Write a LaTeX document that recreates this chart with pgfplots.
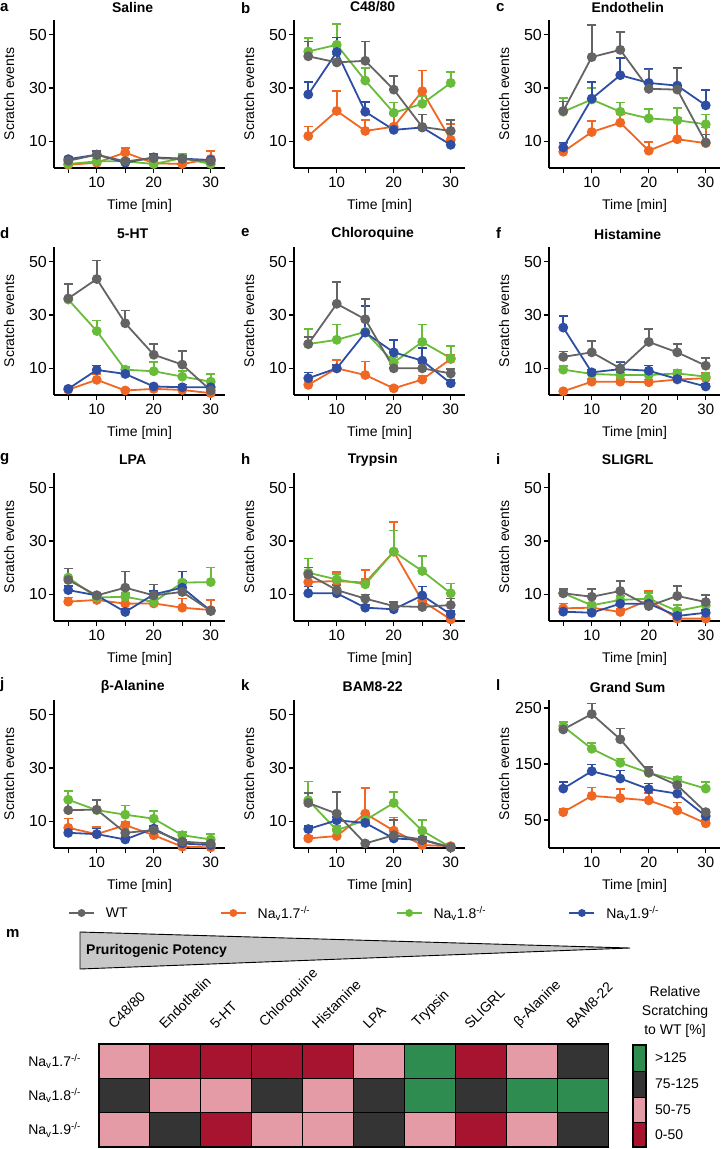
\documentclass[border=0pt]{standalone}
\usepackage{pgfplots}
\usepackage{pgfplotstable}
\pgfplotsset{compat=1.18}
\usepackage{fontspec}
\setmainfont{Liberation Sans}

\definecolor{cWT}{RGB}{100,100,100}
\definecolor{c17}{RGB}{240,102,35}
\definecolor{c18}{RGB}{105,188,58}
\definecolor{c19}{RGB}{45,78,163}
\definecolor{hR}{RGB}{167,20,48}
\definecolor{hP}{RGB}{228,155,165}
\definecolor{hD}{RGB}{52,52,52}
\definecolor{hG}{RGB}{46,140,80}
\definecolor{triG}{RGB}{200,200,200}

\newcommand\fs[1]{\fontsize{#1}{17}\selectfont}

\pgfdeclareplotmark{cell}{\pgfpathrectangle{\pgfpoint{-25.45pt}{-17.15pt}}{\pgfpoint{50.9pt}{34.3pt}}\pgfusepathqfillstroke}

\pgfplotsset{
  panel/.style={
    scale only axis, width=171pt, height=148pt, anchor=south west,
    xmin=2.5, xmax=32.5, ymin=0, ymax=55.5,
    axis x line*=bottom, axis y line*=left,
    axis line style={-, line width=1.6pt, black},
    xtick={5,10,...,30}, xticklabels={,10,,20,,30},
    ytick={10,30,50},
    tick align=outside, major tick length=5pt,
    every tick/.style={black, line width=1.4pt},
    x tick label style={font=\fs{15}},
    y tick label style={font=\fs{16}, inner sep=2pt},
    /pgf/number format/assume math mode=true,
    xlabel={Time [min]}, ylabel={Scratch events},
    every axis x label/.style={at={(axis description cs:0.5,-0.257)}, anchor=center, font=\fs{14}},
    every axis y label/.style={at={(axis description cs:-0.263,0.5)}, anchor=center, rotate=90, font=\fs{14}},
    every axis title/.style={at={(axis description cs:0.46,1)}, anchor=center, yshift=13pt, font=\fs{14}\bfseries},
    clip=false,
  },
  ser/.style={line width=1.8pt, color=#1, mark=*, mark size=4pt,
    mark options={solid, fill=#1, draw=#1},
    error bars/y dir=plus, error bars/y explicit,
    error bars/error bar style={line width=1.6pt, color=#1},
    error bars/error mark options={rotate=90, mark size=4.5pt, line width=1.6pt, color=#1}},
  lg/.style={line width=1.8pt, color=#1, mark=*, mark size=3pt, mark options={solid, fill=#1, draw=#1}},
}

\newcommand\fourseries[1]{%
  \addplot[ser=c17] table[x=t,y=o,y error=oe]{#1};
  \addplot[ser=c18] table[x=t,y=g,y error=ge]{#1};
  \addplot[ser=c19] table[x=t,y=b,y error=be]{#1};
  \addplot[ser=cWT] table[x=t,y=w,y error=we]{#1};
}

% Saline
\pgfplotstableread{
t w we o oe g ge b be
5 2.7 1.5 1.2 1.0 1.5 1.0 3.3 1.0
10 5.0 1.5 2.0 1.5 2.5 1.0 5.0 1.2
15 2.5 1.0 5.8 1.8 2.5 1.0 2.0 1.0
20 3.7 1.8 1.8 1.0 1.5 1.0 4.0 1.2
25 3.4 1.2 1.5 1.0 3.7 1.5 3.5 1.0
30 2.5 1.5 3.4 3.0 1.5 1.0 3.0 1.0
}\dA
% C48/80
\pgfplotstableread{
t w we o oe g ge b be
5 41.9 5.6 12.0 3.5 43.7 5.0 27.6 4.6
10 39.6 3.0 21.4 7.4 46.2 7.8 43.5 5.5
15 40.2 7.3 13.9 4.0 32.8 4.7 21.1 3.7
20 29.4 5.0 15.5 4.5 20.7 3.8 14.3 1.5
25 15.4 4.6 28.8 7.8 24.1 3.0 15.2 4.8
30 13.9 4.0 10.6 5.8 31.9 4.1 8.7 1.5
}\dB
% Endothelin
\pgfplotstableread{
t w we o oe g ge b be
5 21.4 3.6 6.1 3.1 21.1 5.2 7.7 1.9
10 41.6 12.0 13.5 4.1 25.7 4.4 26.0 6.2
15 44.3 6.6 17.0 3.0 21.1 3.4 34.8 6.4
20 29.7 7.2 6.5 3.3 18.6 3.6 31.9 5.2
25 29.4 7.9 10.8 8.0 17.9 4.7 30.9 6.6
30 9.6 3.0 9.3 5.9 16.4 3.7 23.5 5.7
}\dC
% 5-HT
\pgfplotstableread{
t w we o oe g ge b be
5 36.2 5.5 2.0 0.8 35.8 5.9 2.3 0.8
10 43.5 6.9 5.7 2.2 24.0 4.0 9.4 1.6
15 26.9 4.8 1.7 0.6 9.5 1.0 7.9 1.0
20 15.1 4.0 2.3 0.7 8.9 3.4 3.2 0.7
25 11.4 5.0 1.9 0.6 6.9 2.2 2.9 1.0
30 1.7 1.0 0.7 0.5 5.0 2.9 2.9 0.6
}\dD
% Chloroquine
\pgfplotstableread{
t w we o oe g ge b be
5 19.1 2.7 3.8 1.6 19.1 5.6 6.3 2.2
10 34.2 8.2 10.0 3.2 20.7 5.8 10.0 1.2
15 28.4 7.5 7.5 5.0 23.7 4.0 23.4 10.0
20 10.0 1.5 2.5 1.0 12.2 2.0 16.0 4.6
25 10.0 2.0 5.8 1.5 19.9 6.6 12.9 4.7
30 8.1 1.7 13.5 1.5 13.8 4.6 4.4 1.2
}\dE
% Histamine
\pgfplotstableread{
t w we o oe g ge b be
5 14.3 2.0 1.4 0.5 9.5 1.4 25.3 4.4
10 16.0 4.3 5.0 1.0 7.9 1.0 8.5 1.0
15 10.0 2.6 5.0 1.0 7.5 1.0 9.7 2.5
20 19.9 4.8 4.8 1.0 7.5 1.0 9.1 1.9
25 16.0 3.1 5.8 1.0 8.1 1.2 6.0 1.0
30 11.0 2.8 6.3 2.0 6.9 1.0 3.2 1.0
}\dF
% LPA
\pgfplotstableread{
t w we o oe g ge b be
5 15.4 4.3 7.25 1.5 16.3 3.4 11.6 1.5
10 9.6 1.0 7.9 1.0 8.8 1.0 9.6 1.0
15 12.5 6.0 6.5 3.5 9.1 1.5 3.4 1.2
20 9.6 4.1 6.6 1.0 7.1 1.5 10.0 1.2
25 10.9 4.0 5.0 3.4 14.4 4.1 12.5 6.0
30 3.8 1.0 4.1 3.8 14.6 5.4 3.8 1.0
}\dG
% Trypsin
\pgfplotstableread{
t w we o oe g ge b be
5 17.5 2.5 14.6 2.0 18.1 5.4 10.4 2.5
10 11.6 2.0 15.0 3.4 15.6 2.0 10.4 1.0
15 8.4 1.5 14.4 4.7 13.75 2.0 5.0 1.0
20 5.6 1.6 26.0 11.2 26.0 7.9 4.4 1.0
25 5.25 1.5 7.5 2.0 18.75 5.6 9.6 3.3
30 6.0 2.4 0.6 0.5 10.4 3.7 2.5 1.2
}\dH
% SLIGRL
\pgfplotstableread{
t w we o oe g ge b be
5 10.4 1.7 4.75 1.85 10.4 1.0 3.5 1.0
10 9.1 3.0 5.0 1.9 5.9 1.0 3.1 1.0
15 11.25 3.75 3.4 1.0 7.9 1.5 6.5 1.2
20 5.6 1.6 7.9 3.35 8.4 2.2 6.5 1.0
25 9.4 3.7 0.9 0.6 3.75 2.15 1.9 1.0
30 7.1 2.65 0.9 0.6 5.9 3.7 3.1 1.0
}\dI
% beta-Alanine
\pgfplotstableread{
t w we o oe g ge b be
5 14.2 3.7 7.6 3.4 18.1 3.3 5.7 1.3
10 14.4 3.7 5.2 2.7 14.2 3.7 5.2 2.1
15 5.7 3.5 8.6 1.2 12.5 3.5 3.2 1.0
20 6.7 4.0 4.8 1.4 11.0 2.9 7.3 1.0
25 2.4 0.7 0.5 0.5 4.8 1.3 1.7 0.6
30 1.7 0.6 0.25 0.5 3.2 2.0 1.1 0.6
}\dJ
% BAM8-22
\pgfplotstableread{
t w we o oe g ge b be
5 16.9 3.7 3.6 1.0 17.9 7.1 7.1 1.1
10 12.9 8.1 4.5 2.8 6.7 1.5 10.4 1.2
15 1.7 0.8 12.9 9.7 10.4 1.5 9.4 1.0
20 4.8 5.6 6.5 4.9 16.9 4.1 3.6 1.0
25 3.2 1.0 1.1 0.8 6.5 3.9 3.0 0.8
30 0.25 0.5 0.7 1.0 0.25 0.5 0.25 0.5
}\dK
% Grand Sum
\pgfplotstableread{
t w we o oe g ge b be
5 211.5 8 64 6 217 8 106 12
10 239 19 93 15 177 10 137 12
15 194 19 89 16 152 8 124 14
20 135 10 85 13 134 6 105 10
25 112 10 67 14 121 6 97 13
30 64 5 44 6 106 12 57 6
}\dL

\begin{document}
\begin{tikzpicture}[x=1pt,y=1pt]
\useasboundingbox (0,0) rectangle (721,-1149);

% panel letters
\foreach \l/\x/\y in {a/0/8,b/241/8,c/496/8,d/0/233,e/241/233,f/496/233,g/0/459,h/241/459,i/496/459,j/0/685,k/241/685,l/496/685,m/6/933}
  \node[anchor=west, inner sep=0pt, font=\fs{15}\bfseries] at (\x,-\y) {\l};

% row 1
\begin{axis}[panel, at={(54pt,-168pt)}, title={Saline}]
\fourseries{\dA}
\end{axis}
\begin{axis}[panel, at={(294pt,-168pt)}, title={C48/80}]
\fourseries{\dB}
\end{axis}
\begin{axis}[panel, at={(549pt,-168pt)}, title={Endothelin}]
\fourseries{\dC}
\end{axis}
% row 2
\begin{axis}[panel, at={(54pt,-395pt)}, title={5-HT}]
\fourseries{\dD}
\end{axis}
\begin{axis}[panel, at={(294pt,-395pt)}, title={Chloroquine}]
\fourseries{\dE}
\end{axis}
\begin{axis}[panel, at={(549pt,-395pt)}, title={Histamine}]
\fourseries{\dF}
\end{axis}
% row 3
\begin{axis}[panel, at={(54pt,-621pt)}, title={LPA}]
\fourseries{\dG}
\end{axis}
\begin{axis}[panel, at={(294pt,-621pt)}, title={Trypsin}]
\fourseries{\dH}
\end{axis}
\begin{axis}[panel, at={(549pt,-621pt)}, title={SLIGRL}]
\fourseries{\dI}
\end{axis}
% row 4
\begin{axis}[panel, at={(54pt,-848pt)}, title={β-Alanine}]
\fourseries{\dJ}
\end{axis}
\begin{axis}[panel, at={(294pt,-848pt)}, title={BAM8-22}]
\fourseries{\dK}
\end{axis}
\begin{axis}[panel, at={(549pt,-848pt)}, title={Grand Sum}, ymax=264, ytick={50,150,250}]
\fourseries{\dL}
\end{axis}

% triangle
\draw[fill=triG, line width=0.9pt] (80,-932) -- (630,-948) -- (80,-969) -- cycle;
\node[anchor=west, inner sep=0pt, font=\fs{14}\bfseries] at (86,-951) {Pruritogenic Potency};

% heatmap
\begin{axis}[at={(99pt,-1147pt)}, anchor=south west, scale only axis,
  width=509pt, height=103pt,
  xmin=-0.5, xmax=9.5, ymin=-0.5, ymax=2.5,
  axis line style={line width=1.8pt},
  major tick length=0pt,
  xtick={-0.2,0.8,1.8,2.8,3.8,4.8,5.8,6.8,7.8,8.8},
  xticklabels={C48/80,Endothelin,5-HT,Chloroquine,Histamine,LPA,Trypsin,SLIGRL,β-Alanine,BAM8-22},
  xticklabel pos=upper,
  x tick label style={rotate=45, anchor=south west, inner sep=0pt, font=\fs{14}},
  xticklabel shift=14pt,
  ytick={0,1,2},
  yticklabels={Na\textsubscript{v}1.9\textsuperscript{-/-},Na\textsubscript{v}1.8\textsuperscript{-/-},Na\textsubscript{v}1.7\textsuperscript{-/-}},
  y tick label style={font=\fs{14}, anchor=east, inner sep=0pt, xshift=-18pt},
  clip=false,
  legend columns=4,
  legend image code/.code={\draw[mark repeat=2,mark phase=2,#1] plot coordinates {(0pt,0pt) (12.5pt,0pt) (25pt,0pt)};},
  legend style={at={(axis description cs:-0.061,2.272)}, anchor=west, draw=none, fill=none,
    inner sep=0pt, font=\fs{14},
    /tikz/every odd column/.append style={column sep=9pt}},
]
\addplot[scatter, only marks, scatter src=explicit symbolic, forget plot,
  scatter/classes={
    r={mark=cell, draw=black, fill=hR, line width=1pt},
    p={mark=cell, draw=black, fill=hP, line width=1pt},
    d={mark=cell, draw=black, fill=hD, line width=1pt},
    g={mark=cell, draw=black, fill=hG, line width=1pt}}]
  table[x=x, y=y, meta=c] {
x y c
0 2 p
1 2 r
2 2 r
3 2 r
4 2 r
5 2 p
6 2 g
7 2 r
8 2 p
9 2 d
0 1 d
1 1 p
2 1 p
3 1 d
4 1 p
5 1 d
6 1 g
7 1 d
8 1 g
9 1 g
0 0 p
1 0 d
2 0 r
3 0 p
4 0 p
5 0 d
6 0 p
7 0 r
8 0 p
9 0 d
};
\addlegendimage{lg=cWT}
\addlegendentry{\makebox[112pt][l]{WT}}
\addlegendimage{lg=c17}
\addlegendentry{\makebox[136pt][l]{Na\textsubscript{v}1.7\textsuperscript{-/-}}}
\addlegendimage{lg=c18}
\addlegendentry{\makebox[133pt][l]{Na\textsubscript{v}1.8\textsuperscript{-/-}}}
\addlegendimage{lg=c19}
\addlegendentry{Na\textsubscript{v}1.9\textsuperscript{-/-}}
\end{axis}

% colour key
\fill[hG] (633,-1045) rectangle (646,-1071);
\fill[hD] (633,-1071) rectangle (646,-1097);
\fill[hP] (633,-1097) rectangle (646,-1122);
\fill[hR] (633,-1122) rectangle (646,-1147);
\draw[line width=0.8pt] (633,-1071) -- (646,-1071) (633,-1097) -- (646,-1097) (633,-1122) -- (646,-1122);
\draw[line width=1.6pt] (633,-1045) rectangle (646,-1147);
\node[anchor=west, font=\fs{14}, inner sep=0pt] at (655,-1058) {>125};
\node[anchor=west, font=\fs{14}, inner sep=0pt] at (655,-1084) {75-125};
\node[anchor=west, font=\fs{14}, inner sep=0pt] at (655,-1110) {50-75};
\node[anchor=west, font=\fs{14}, inner sep=0pt] at (655,-1135) {0-50};
\node[align=center, font=\fontsize{14}{19}\selectfont, anchor=center] at (675,-1012) {Relative\\Scratching\\to WT [\%]};
\end{tikzpicture}
\end{document}
